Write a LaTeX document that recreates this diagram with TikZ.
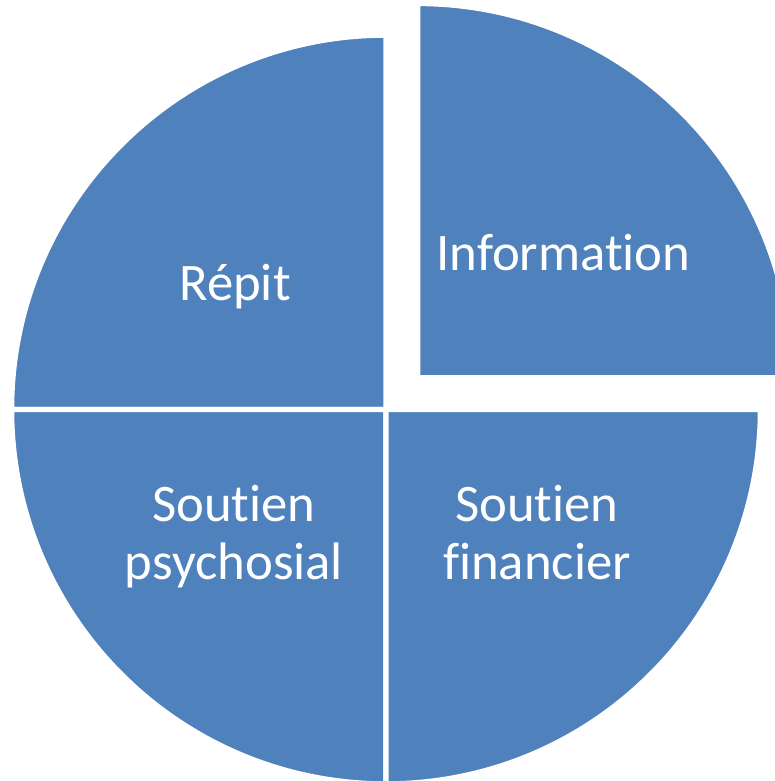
\documentclass[tikz,border=0pt]{standalone}
\usepackage{fontspec}
\setmainfont{Carlito}[Ligatures=NoCommon]
\usepackage{tikz}
\definecolor{pieblue}{RGB}{79,129,189}

\begin{document}
\begin{tikzpicture}[x=0.01cm,y=0.01cm,
  slice/.style={fill=pieblue,draw=white,line width=1.56pt},
  slicetext/.style={text=white,font=\fontsize{15}{16.6}\selectfont,align=center,anchor=base}]
\useasboundingbox (0,0) rectangle (775,781);
\clip (0,0) rectangle (775,781);
\coordinate (O) at (386,371.5);
% three slices around the centre
\filldraw[slice] (O) -- ++(90:374.5) arc (90:180:374.5) -- cycle;
\filldraw[slice] (O) -- ++(180:374.5) arc (180:270:374.5) -- cycle;
\filldraw[slice] (O) -- ++(270:374.5) arc (270:360:374.5) -- cycle;
% the pulled-out slice
\coordinate (P) at ([shift={(31.6,31.6)}]O);
\filldraw[slice] (P) -- ++(0:374.5) arc (0:90:374.5) -- cycle;
\node[slicetext] (info) at (563.5,511) {Information};
\node[slicetext] (repit) at (235,480) {Répit};
\node[slicetext] (psy) at (234,201) {Soutien\\psychosial};
\node[slicetext] (fin) at (537,201) {Soutien\\financier};
\end{tikzpicture}
\end{document}
